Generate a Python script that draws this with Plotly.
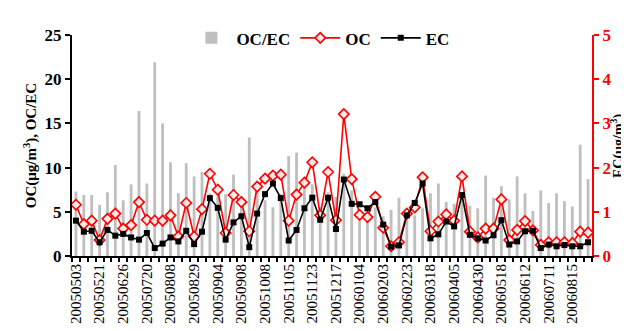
import plotly.graph_objects as go

tick_labels = ["20050503", "20050521", "20050626", "20050720", "20050808", "20050829",
               "20050904", "20050908", "20051008", "20051105", "20051123", "20051217",
               "20060104", "20060203", "20060223", "20060318", "20060405", "20060430",
               "20060518", "20060612", "20060711", "20060815"]

oc_ec = [7.3, 6.9, 6.9, 5.8, 7.2, 10.3, 6.3, 8.1, 16.4, 8.2, 21.9, 15.0, 10.6, 7.1, 10.5, 9.0,
         9.5, 7.1, 6.9, 7.0, 9.2, 6.8, 13.4, 8.2, 6.3, 5.5, 7.0, 11.3, 11.7, 7.7, 8.1, 5.6,
         7.2, 6.7, 9.3, 7.4, 4.0, 4.1, 5.5, 4.5, 5.2, 6.6, 5.2, 4.6, 5.4, 7.1, 8.2, 6.1,
         5.9, 6.5, 5.7, 5.4, 9.1, 6.6, 7.9, 6.4, 9.0, 7.1, 5.1, 7.4, 6.0, 7.1, 6.2, 5.6,
         12.6, 8.7]

oc = [5.8, 3.6, 4.0, 1.8, 4.2, 4.8, 3.1, 3.5, 6.1, 4.1, 4.0, 4.0, 4.6, 2.2, 6.0, 2.2,
      5.3, 9.3, 7.5, 2.6, 6.9, 6.1, 2.8, 7.85, 8.75, 9.1, 9.2, 4.0, 6.95, 8.3, 10.6, 4.6,
      9.5, 4.05, 16.05, 8.7, 4.65, 4.4, 6.7, 3.2, 1.1, 1.55, 4.8, 5.5, 8.9, 2.8, 3.9, 4.7,
      4.0, 9.0, 2.75, 2.1, 3.1, 3.1, 6.4, 1.8, 2.95, 3.95, 2.9, 1.25, 1.55, 1.55, 1.55, 1.45,
      2.75, 2.65]

ec = [0.80, 0.55, 0.57, 0.31, 0.59, 0.46, 0.50, 0.42, 0.37, 0.52, 0.18, 0.28, 0.42, 0.33, 0.57, 0.27,
      0.55, 1.31, 1.09, 0.37, 0.76, 0.90, 0.20, 0.96, 1.40, 1.64, 1.31, 0.35, 0.59, 1.08, 1.32, 0.82,
      1.32, 0.61, 1.73, 1.18, 1.17, 1.08, 1.22, 0.71, 0.21, 0.24, 0.92, 1.20, 1.64, 0.40, 0.49, 0.78,
      0.67, 1.38, 0.48, 0.40, 0.35, 0.47, 0.81, 0.26, 0.33, 0.56, 0.57, 0.18, 0.26, 0.22, 0.25, 0.22,
      0.22, 0.31]

idx = list(range(len(oc)))
label_every = 3
tickvals = idx[::label_every][:len(tick_labels)]

FONT = "Liberation Serif"

fig = go.Figure()
fig.add_trace(go.Bar(x=idx, y=oc_ec, name="OC/EC", marker=dict(color="#BFBFBF", line=dict(width=0)),
                     width=0.36))
fig.add_trace(go.Scatter(x=idx, y=oc, name="OC", mode="lines+markers",
                         line=dict(color="#FF0000", width=1.6),
                         marker=dict(symbol="diamond", size=8, color="#FFE8E8",
                                     line=dict(color="#FF0000", width=1.6))))
fig.add_trace(go.Scatter(x=idx, y=ec, name="EC", mode="lines+markers", yaxis="y2",
                         line=dict(color="#000000", width=1.6),
                         marker=dict(symbol="square", size=6, color="#000000",
                                     line=dict(color="#000000", width=0))))

fig.add_annotation(text="EC(μg/m<sup>3</sup>)", xref="paper", yref="paper", x=1, y=0.5,
                   xanchor="left", yanchor="middle", xshift=14, textangle=-90,
                   showarrow=False, font=dict(family=FONT, size=14, color="black", weight="bold"))

fig.update_layout(
    width=629, height=331,
    margin=dict(l=64, r=45, t=22, b=83),
    paper_bgcolor="white", plot_bgcolor="white",
    font=dict(family=FONT, color="black"),
    bargap=0.6,
    showlegend=True,
    legend=dict(orientation="h", x=0.22, y=0.985, xanchor="left", yanchor="middle",
                font=dict(family=FONT, size=17, color="black", weight="bold"),
                bgcolor="rgba(0,0,0,0)", itemwidth=40, tracegroupgap=0),
    xaxis=dict(range=[-0.5, len(idx) - 0.5], tickmode="array", tickvals=tickvals,
               ticktext=tick_labels, tickangle=-90, ticks="",
               tickfont=dict(family=FONT, size=15, color="black"),
               showline=True, linecolor="black", linewidth=2, showgrid=False, zeroline=False,
               minor=dict(tickmode="linear", tick0=-0.5, dtick=1, ticks="outside",
                          ticklen=4, tickwidth=1.5, tickcolor="black", showgrid=False)),
    yaxis=dict(range=[0, 25], dtick=5, ticks="outside", ticklen=5, tickwidth=2,
               tickcolor="black", showline=True, linecolor="black", linewidth=2,
               showgrid=False, zeroline=False,
               tickfont=dict(family=FONT, size=17, color="black", weight="bold"),
               title=dict(text="OC(μg/m<sup>3</sup>), OC/EC", standoff=4,
                          font=dict(family=FONT, size=15, color="black", weight="bold"))),
    yaxis2=dict(range=[0, 5], dtick=1, overlaying="y", side="right", ticks="outside",
                ticklen=5, tickwidth=2, tickcolor="#FF0000", showline=True,
                linecolor="#FF0000", linewidth=2, showgrid=False, zeroline=False,
                tickfont=dict(family=FONT, size=17, color="#FF0000", weight="bold")),
)

fig.write_html("out.html")
